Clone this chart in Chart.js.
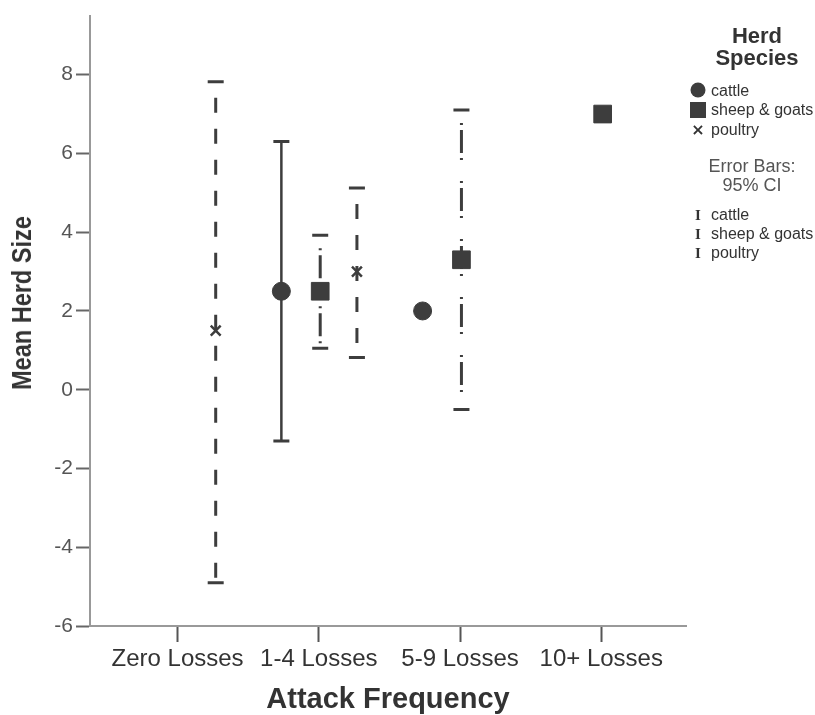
<!DOCTYPE html>
<html>
<head>
<meta charset="utf-8">
<script src="https://cdn.jsdelivr.net/npm/chart.js@4.4.1/dist/chart.umd.min.js"></script>
<style>
  body { margin: 0; background: #fff; }
  #wrap { position: relative; width: 815px; height: 715px; font-family: "Liberation Sans", Arial, sans-serif; color: #333; }
  #yTitle { position: absolute; left: 22px; top: 303px; transform: translate(-50%, -50%) rotate(-90deg) scaleX(0.84); white-space: nowrap;
    font: bold 28px "Liberation Sans", Arial, sans-serif; color: #333; }
  #xTitle { position: absolute; left: 388px; top: 698px; transform: translate(-50%, -50%); white-space: nowrap;
    font: bold 29px "Liberation Sans", Arial, sans-serif; color: #333; }
  #legend { position: absolute; left: 686px; top: 0; width: 129px; }
  .lg-title { position: absolute; left: 0; width: 142px; text-align: center; font: bold 22px "Liberation Sans", Arial, sans-serif; color: #333; line-height: 22px; }
  .lg-row { position: absolute; left: 25px; font: 16px "Liberation Sans", Arial, sans-serif; color: #333; white-space: nowrap; transform: translateY(-50%); }
  .lg-sym { position: absolute; transform: translate(-50%, -50%); background: #3d3d3d; }
  .lg-note { position: absolute; left: 0; width: 132px; text-align: center; font: 18px "Liberation Sans", Arial, sans-serif; color: #555; transform: translateY(-50%); }
  .lg-bar { position: absolute; left: 12px; transform: translate(-50%, -50%); font: bold 15px "Liberation Serif", serif; color: #333; }
</style>
</head>
<body>
<div id="wrap">
  <canvas id="herdChart"></canvas>
  <div id="yTitle">Mean Herd Size</div>
  <div id="xTitle">Attack Frequency</div>
  <div id="legend">
    <div class="lg-title" style="top:25px;">Herd<br>Species</div>
    <div class="lg-sym" style="left:12px;top:90px;width:15px;height:15px;border-radius:50%;"></div>
    <div class="lg-row" style="top:91px;">cattle</div>
    <div class="lg-sym" style="left:12px;top:110px;width:16px;height:16px;"></div>
    <div class="lg-row" style="top:110px;">sheep &amp; goats</div>
    <div class="lg-sym" style="left:12px;top:129px;background:none;font:bold 16px 'DejaVu Sans',sans-serif;color:#333;">×</div>
    <div class="lg-row" style="top:130px;">poultry</div>
    <div class="lg-note" style="top:166px;">Error Bars:</div>
    <div class="lg-note" style="top:185px;">95% CI</div>
    <div class="lg-bar" style="top:215px;">I</div>
    <div class="lg-row" style="top:215px;">cattle</div>
    <div class="lg-bar" style="top:234px;">I</div>
    <div class="lg-row" style="top:234px;">sheep &amp; goats</div>
    <div class="lg-bar" style="top:253px;">I</div>
    <div class="lg-row" style="top:253px;">poultry</div>
  </div>
</div>
<script>
const categories = ['Zero Losses', '1-4 Losses', '5-9 Losses', '10+ Losses'];
const yTicks = [-6, -4, -2, 0, 2, 4, 6, 8];

// mean herd size per attack frequency (null = no group)
const cattleMean = [null, 2.5, 2.0, null];
const sheepMean = [null, 2.5, 3.3, 7.0];
const poultryMean = [1.5, 3.0, null, null];

// 95% CI bounds
const cattleLow = [null, -1.3, null, null];
const cattleHigh = [null, 6.3, null, null];
const sheepLow = [null, 1.05, -0.5, null];
const sheepHigh = [null, 3.92, 7.1, null];
const poultryLow = [-4.9, 0.82, null, null];
const poultryHigh = [7.82, 5.12, null, null];

const INK = '#3d3d3d';
const clusterOffset = { cattle: -0.265, sheep: 0.01, poultry: 0.27 };

const meanPoints = (means, off) => means
  .map((y, i) => (y == null ? null : { x: i + off, y }))
  .filter(Boolean);

// drawn top-down so the dash pattern starts at the upper cap
const barPoints = (low, high, off) => {
  const pts = [];
  low.forEach((lo, i) => {
    if (lo == null) return;
    pts.push({ x: i + off, y: high[i] }, { x: i + off, y: lo }, { x: i + off, y: null });
  });
  return pts;
};

const errorSet = (label, low, high, off, dash, dashOffset, width) => ({
  label,
  data: barPoints(low, high, off),
  showLine: true,
  spanGaps: false,
  borderColor: INK,
  borderWidth: width,
  borderDash: dash,
  borderDashOffset: dashOffset,
  pointStyle: 'line',
  pointRadius: 8,
  pointBorderWidth: 3,
  pointBorderColor: INK,
  order: 1
});

const meanSet = (label, means, off, style, radius, bw) => ({
  label,
  data: meanPoints(means, off),
  pointStyle: style,
  pointRadius: radius,
  pointBorderWidth: bw,
  pointBackgroundColor: INK,
  pointBorderColor: INK,
  order: 0
});

const ctx = document.getElementById('herdChart');

new Chart(ctx, {
  type: 'scatter',
  data: {
    datasets: [
      meanSet('cattle', cattleMean, clusterOffset.cattle, 'circle', 9, 1),
      meanSet('sheep & goats', sheepMean, clusterOffset.sheep, 'rect', 12.5, 1),
      meanSet('poultry', poultryMean, clusterOffset.poultry, 'crossRot', 7, 2.5),
      errorSet('cattle CI', cattleLow, cattleHigh, clusterOffset.cattle, [], 0, 2.5),
      errorSet('sheep & goats CI', sheepLow, sheepHigh, clusterOffset.sheep, [23, 5, 2, 21, 2, 5], 38, 3),
      errorSet('poultry CI', poultryLow, poultryHigh, clusterOffset.poultry, [15, 16], 15, 3)
    ]
  },
  options: {
    responsive: true,
    maintainAspectRatio: false,
    animation: false,
    events: [],
    layout: { padding: { top: 13, right: 129, left: 0, bottom: 0 } },
    plugins: { legend: { display: false }, tooltip: { enabled: false } },
    scales: {
      x: {
        type: 'linear',
        min: -0.62,
        max: 3.6,
        afterFit: s => { s.height = 89; },
        afterBuildTicks: s => { s.ticks = categories.map((_, i) => ({ value: i })); },
        ticks: {
          autoSkip: false,
          maxRotation: 0,
          padding: 3,
          color: '#333',
          font: { family: '"Liberation Sans", Arial, sans-serif', size: 24 },
          callback: v => categories[v] ?? ''
        },
        grid: { drawOnChartArea: false, tickLength: 16, tickWidth: 2, tickColor: '#555' },
        border: { color: '#999', width: 2 }
      },
      y: {
        type: 'linear',
        min: -6,
        max: 9.5,
        afterFit: s => { s.width = 90; },
        afterBuildTicks: s => { s.ticks = yTicks.map(v => ({ value: v })); },
        ticks: {
          padding: 3,
          color: '#555',
          font: { family: '"Liberation Sans", Arial, sans-serif', size: 21 }
        },
        grid: { drawOnChartArea: false, tickLength: 14, tickWidth: 2, tickColor: '#666' },
        border: { color: '#999', width: 2 }
      }
    }
  }
});
</script>
</body>
</html>
